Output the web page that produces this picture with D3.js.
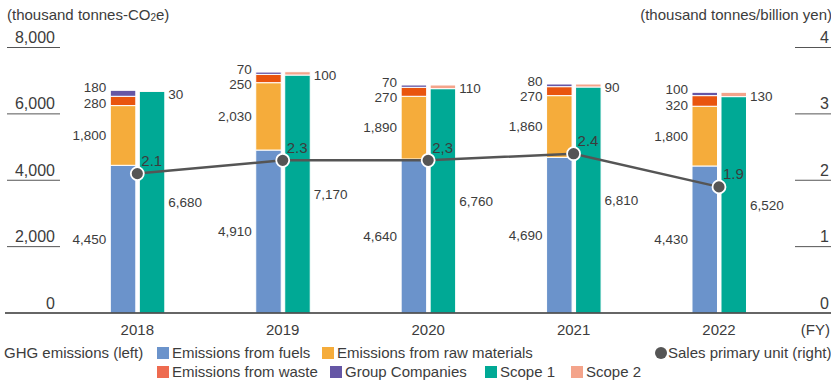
<!DOCTYPE html>
<html>
<head>
<meta charset="utf-8">
<script src="https://cdn.jsdelivr.net/npm/d3@7"></script>
<style>
    body{ margin:0; background:#fff; }
    svg text{ font-family:"Liberation Sans", Arial, sans-serif; fill:#3c3c3c; }
</style>
</head>
<body>
<div id="chart"></div>
<script>
// chart data
var years = ['2018', '2019', '2020', '2021', '2022'];
var fuels = [4450, 4910, 4640, 4690, 4430];
var rawMaterials = [1800, 2030, 1890, 1860, 1800];
var waste = [280, 250, 270, 270, 320];
var groupCompanies = [180, 70, 70, 80, 100];
var scope1 = [6680, 7170, 6760, 6810, 6520];
var scope2 = [30, 100, 110, 90, 130];
var salesUnit = [2.1, 2.3, 2.3, 2.4, 1.9];
var salesLabels = ['2.1', '2.3', '2,3', '2.4', '1.9'];
var leftTicks = [0, 2000, 4000, 6000, 8000];
var rightTicks = [0, 1, 2, 3, 4];

var colors = {
    fuels: '#6b93cb',
    raw: '#f5ac3b',
    waste: '#e9540e',
    wasteLegend: '#ee6b50',
    group: '#6556a5',
    scope1: '#00a995',
    scope2: '#f4a48b',
    line: '#555555'
};

var width = 831, height = 380;
var svg = d3.select('#chart').append('svg')
    .attr('width', width)
    .attr('height', height);

var x = d3.scaleBand().domain(years).range([64.6, 791.7]);
var y = d3.scaleLinear().domain([0, 8000]).range([313, 47.5]);
var y2 = d3.scaleLinear().domain([0, 4]).range([313, 47.5]);
var fmt = d3.format(',');
function cx(d){ return x(d) + x.bandwidth()/2; }

// axis titles
svg.append('text').attr('x', 7).attr('y', 20).style('font-size', '15px')
    .html('(thousand tonnes-CO<tspan font-size="10" dy="1">2</tspan><tspan dy="-1">e)</tspan>');
svg.append('text').attr('x', 832).attr('y', 20).attr('text-anchor', 'end')
    .style('font-size', '15px').text('(thousand tonnes/billion yen)');

// tick marks and labels
leftTicks.forEach(function(t){
    if (t > 0)
        svg.append('line').attr('x1', 7).attr('x2', 60).attr('y1', y(t)).attr('y2', y(t))
            .attr('stroke', '#555').attr('stroke-width', 1);
    svg.append('text').attr('x', 55).attr('y', y(t) - 4.5).attr('text-anchor', 'end')
        .style('font-size', '16px').text(fmt(t));
});
rightTicks.forEach(function(t){
    if (t > 0)
        svg.append('line').attr('x1', 795).attr('x2', 831).attr('y1', y2(t)).attr('y2', y2(t))
            .attr('stroke', '#555').attr('stroke-width', 1);
    svg.append('text').attr('x', 829).attr('y', y2(t) - 4.5).attr('text-anchor', 'end')
        .style('font-size', '16px').text(t);
});

// stacked bars
var leftStack = years.map(function(d, i){
    return [
        {key: 'fuels', v: fuels[i]},
        {key: 'raw', v: rawMaterials[i]},
        {key: 'waste', v: waste[i]},
        {key: 'group', v: groupCompanies[i]}
    ];
});
var rightStack = years.map(function(d, i){
    return [
        {key: 'scope1', v: scope1[i]},
        {key: 'scope2', v: scope2[i]}
    ];
});

var barW = 25.5;
years.forEach(function(yr, i){
    var c = cx(yr);
    var g = svg.append('g');
    var base = 0;
    var tops = {};
    leftStack[i].forEach(function(s){
        g.append('rect')
            .attr('x', c - 27).attr('width', barW)
            .attr('y', y(base + s.v)).attr('height', y(base) - y(base + s.v))
            .attr('fill', colors[s.key]).attr('stroke', '#fff').attr('stroke-width', 1);
        tops[s.key] = [y(base + s.v), y(base)];
        base += s.v;
    });
    var leftTop = y(base);
    base = 0;
    rightStack[i].forEach(function(s){
        g.append('rect')
            .attr('x', c + 2).attr('width', barW)
            .attr('y', y(base + s.v)).attr('height', y(base) - y(base + s.v))
            .attr('fill', colors[s.key]).attr('stroke', '#fff').attr('stroke-width', 1);
        tops[s.key] = [y(base + s.v), y(base)];
        base += s.v;
    });
    var rightTop = y(base);

    // labels
    function lab(xp, yp, anchor, txt){
        svg.append('text').attr('x', xp).attr('y', yp).attr('dy', '0.35em')
            .attr('text-anchor', anchor).style('font-size', '13.5px').text(txt);
    }
    lab(c - 31, (tops.fuels[0] + tops.fuels[1]) / 2, 'end', fmt(fuels[i]));
    lab(c - 31, (tops.raw[0] + tops.raw[1]) / 2, 'end', fmt(rawMaterials[i]));
    var gy = leftTop - 3;
    lab(c - 31, gy, 'end', fmt(groupCompanies[i]));
    lab(c - 31, gy + 15.5, 'end', fmt(waste[i]));
    lab(c + 31, (tops.scope1[0] + tops.scope1[1]) / 2, 'start', fmt(scope1[i]));
    lab(c + 31, rightTop + 3.5, 'start', fmt(scope2[i]));
});

// x axis
svg.append('line').attr('x1', 5).attr('x2', 831).attr('y1', 313).attr('y2', 313)
    .attr('stroke', '#333').attr('stroke-width', 1.6);
years.forEach(function(yr){
    svg.append('text').attr('x', cx(yr)).attr('y', 335).attr('text-anchor', 'middle')
        .style('font-size', '15px').text(yr);
});
svg.append('text').attr('x', 830).attr('y', 335).attr('text-anchor', 'end')
    .style('font-size', '15px').text('(FY)');

// sales primary unit line
var line = d3.line()
    .x(function(d, i){ return cx(years[i]); })
    .y(function(d){ return y2(d); });
svg.append('path').datum(salesUnit)
    .attr('d', line).attr('fill', 'none')
    .attr('stroke', colors.line).attr('stroke-width', 2.5);
svg.selectAll('.pt').data(salesUnit).enter().append('circle')
    .attr('cx', function(d, i){ return cx(years[i]); })
    .attr('cy', function(d){ return y2(d); })
    .attr('r', 6.5)
    .attr('fill', colors.line).attr('stroke', '#fff').attr('stroke-width', 1.8);
svg.selectAll('.ptl').data(salesUnit).enter().append('text')
    .attr('x', function(d, i){ return cx(years[i]) + 4; })
    .attr('y', function(d){ return y2(d) - 13; })
    .attr('dy', '0.35em')
    .style('font-size', '15px')
    .text(function(d, i){ return salesLabels[i]; });

// legend
var legendRows = [
    [{x: 157, key: 'fuels', text: 'Emissions from fuels'},
     {x: 322, key: 'raw', text: 'Emissions from raw materials'}],
    [{x: 157, key: 'wasteLegend', text: 'Emissions from waste'},
     {x: 330, key: 'group', text: 'Group Companies'},
     {x: 485, key: 'scope1', text: 'Scope 1'},
     {x: 571, key: 'scope2', text: 'Scope 2'}]
];
var rowY = [353, 372];
svg.append('text').attr('x', 4).attr('y', rowY[0]).attr('dy', '0.35em')
    .style('font-size', '15px').text('GHG emissions (left)');
legendRows.forEach(function(row, r){
    row.forEach(function(it){
        svg.append('rect').attr('x', it.x).attr('y', rowY[r] - 6).attr('width', 12).attr('height', 12)
            .attr('fill', colors[it.key]);
        svg.append('text').attr('x', it.x + 15).attr('y', rowY[r]).attr('dy', '0.35em')
            .style('font-size', '15px').text(it.text);
    });
});
svg.append('circle').attr('cx', 661).attr('cy', rowY[0]).attr('r', 6).attr('fill', colors.line);
svg.append('text').attr('x', 668).attr('y', rowY[0]).attr('dy', '0.35em')
    .style('font-size', '15px').text('Sales primary unit (right)');
</script>
</body>
</html>
